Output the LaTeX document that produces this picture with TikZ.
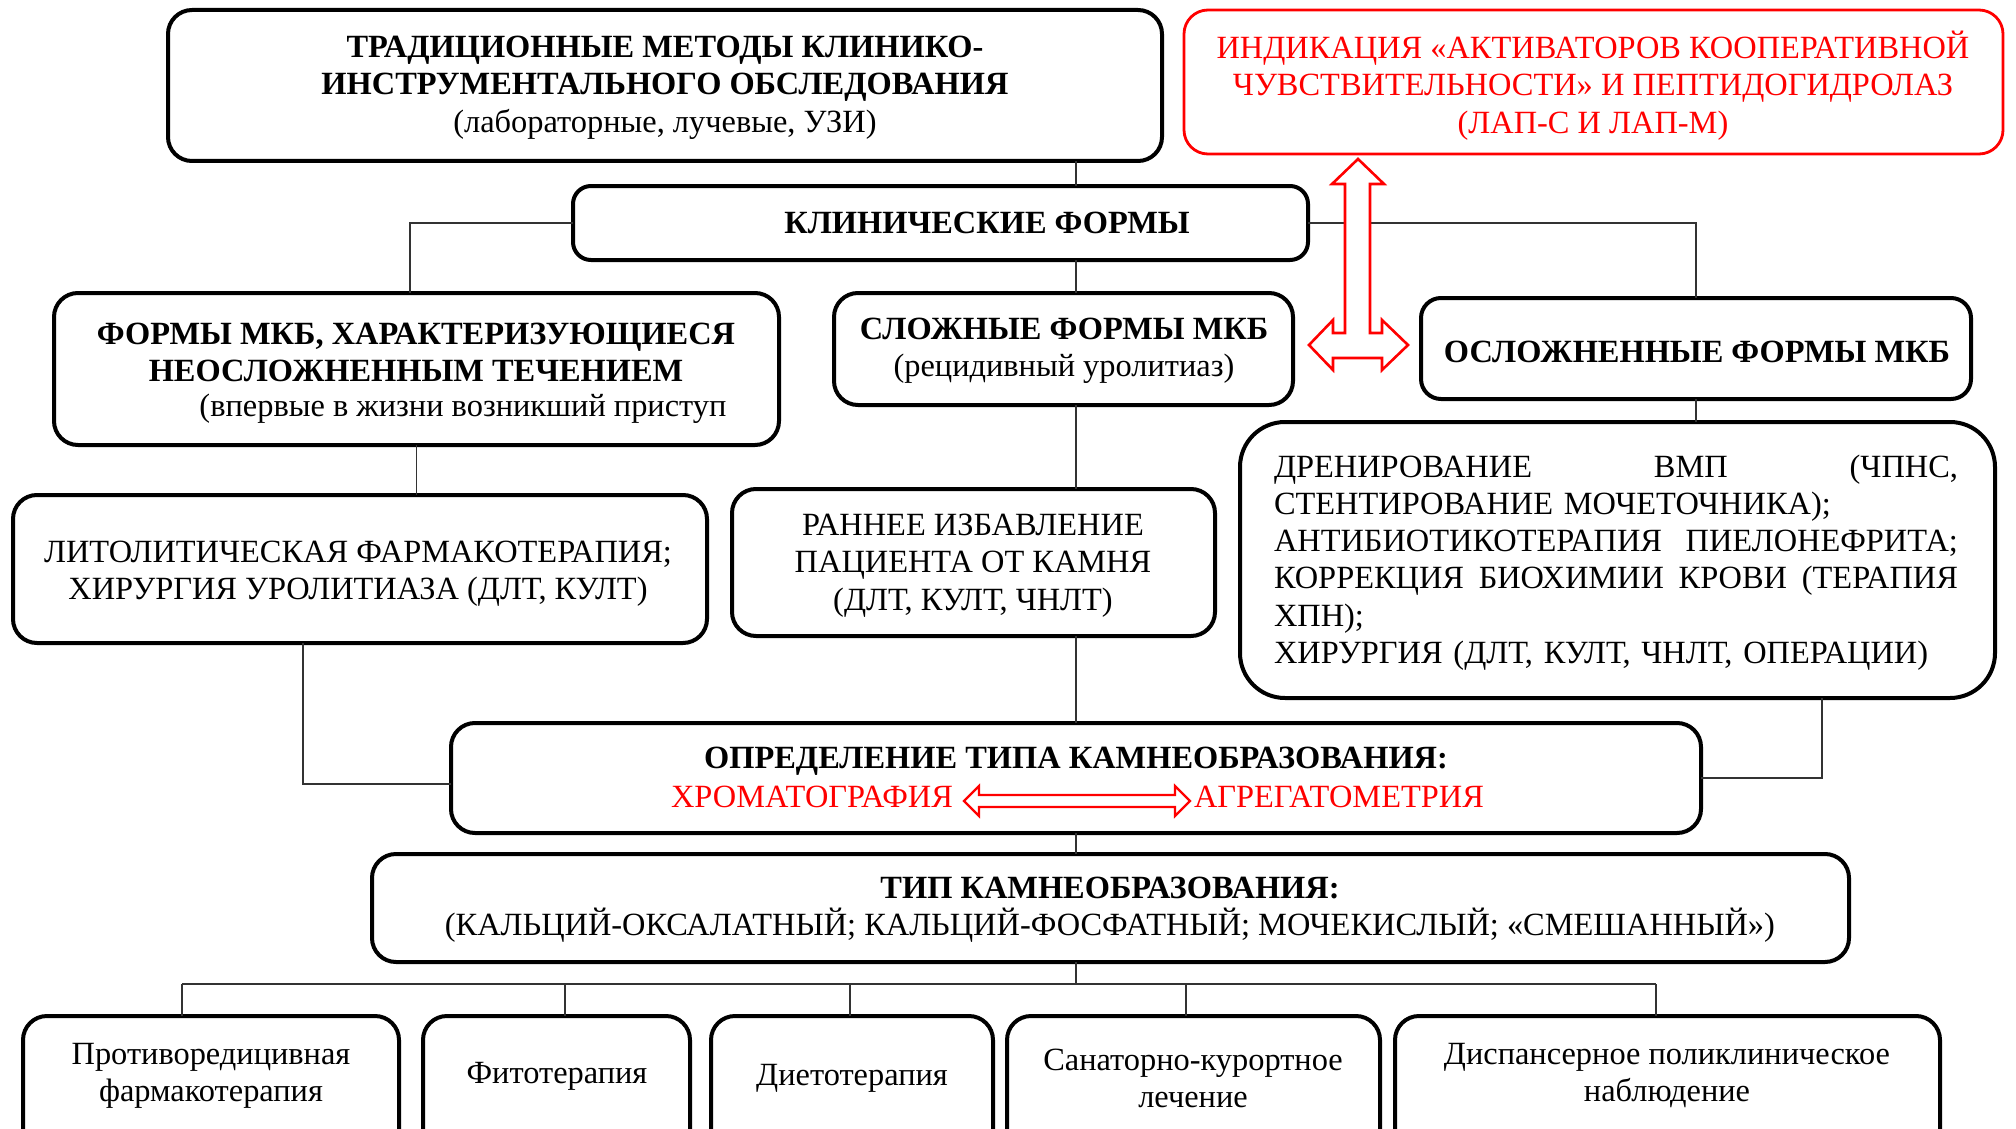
\documentclass[tikz,border=0pt]{standalone}
\usepackage{fontspec}
\setmainfont{Liberation Serif}
\begin{document}
\begin{tikzpicture}[x=1pt,y=-1pt,
  every node/.style={font=\fontsize{32.4}{37.3}\selectfont, inner sep=0pt, outer sep=0pt},
  box/.style={draw=black, line width=4pt, rounded corners=24pt},
  redbox/.style={draw=red, line width=2.8pt, rounded corners=24pt},
  conn/.style={draw=black!80, line width=1.8pt},
  redarrow/.style={draw=red, line width=2.6pt, line join=miter},
  txt/.style={align=center, yshift=-3.5pt},
  redtxt/.style={align=center, text=red, yshift=-3.5pt}]
\useasboundingbox (0,0) rectangle (2016,1129);
\clip (0,0) rectangle (2016,1129);

% boxes
\node[box, minimum width=994pt, minimum height=151pt] (top) at (665,85.5) {};
\node[redbox, minimum width=819pt, minimum height=144pt] (ind) at (1593.5,82) {};
\node[box, minimum width=735pt, minimum height=74pt, rounded corners=18pt] (clin) at (940.5,223) {};
\node[box, minimum width=725pt, minimum height=152pt] (f1) at (416.5,369) {};
\node[box, minimum width=459pt, minimum height=112pt] (f2) at (1063.5,349) {};
\node[box, minimum width=550pt, minimum height=101pt, rounded corners=20pt] (f3) at (1696,348.5) {};
\node[box, minimum width=694pt, minimum height=148pt] (t1) at (360,569) {};
\node[box, minimum width=483pt, minimum height=147pt] (t2) at (973.5,562.5) {};
\node[box, minimum width=755pt, minimum height=276pt, rounded corners=45pt] (t3) at (1617.5,560) {};
\node[box, minimum width=1250pt, minimum height=110pt] (det) at (1076,778) {};
\node[box, minimum width=1477pt, minimum height=108pt] (typ) at (1110.5,908) {};
\node[box, minimum width=376pt, minimum height=150pt] (b1) at (211,1091) {};
\node[box, minimum width=267pt, minimum height=150pt] (b2) at (556.5,1091) {};
\node[box, minimum width=282pt, minimum height=150pt] (b3) at (852,1091) {};
\node[box, minimum width=373pt, minimum height=150pt] (b4) at (1193.5,1091) {};
\node[box, minimum width=545pt, minimum height=150pt] (b5) at (1667.5,1091) {};

% texts
\node[txt] (toptxt) at (665,84) {\textbf{ТРАДИЦИОННЫЕ МЕТОДЫ КЛИНИКО-}\\\textbf{ИНСТРУМЕНТАЛЬНОГО ОБСЛЕДОВАНИЯ}\\(лабораторные, лучевые, УЗИ)};
\node[redtxt] (indtxt) at (1593,82) {ИНДИКАЦИЯ «АКТИВАТОРОВ КООПЕРАТИВНОЙ\\ЧУВСТВИТЕЛЬНОСТИ» И ПЕПТИДОГИДРОЛАЗ\\(ЛАП-С И ЛАП-М)};
\node[txt] (clintxt) at (987,219) {\textbf{КЛИНИЧЕСКИЕ ФОРМЫ}};
\node[txt] (f1txt) at (416,349) {\textbf{ФОРМЫ МКБ, ХАРАКТЕРИЗУЮЩИЕСЯ}\\\textbf{НЕОСЛОЖНЕННЫМ ТЕЧЕНИЕМ}};
\node[txt] (f1sub) at (463,405) {(впервые в жизни возникший приступ};
\node[txt] (f2txt) at (1064,347) {\textbf{СЛОЖНЫЕ ФОРМЫ МКБ}\\(рецидивный уролитиаз)};
\node[txt] (f3txt) at (1697,348) {\textbf{ОСЛОЖНЕННЫЕ ФОРМЫ МКБ}};
\node[txt] (t1txt) at (358,570) {ЛИТОЛИТИЧЕСКАЯ ФАРМАКОТЕРАПИЯ;\\ХИРУРГИЯ УРОЛИТИАЗА (ДЛТ, КУЛТ)};
\node[txt] (t2txt) at (973,562) {РАННЕЕ ИЗБАВЛЕНИЕ\\ПАЦИЕНТА ОТ КАМНЯ\\(ДЛТ, КУЛТ, ЧНЛТ)};
\node[align=left, text width=684pt, anchor=west, yshift=-3.5pt] (t3txt) at (1274,559) {\makebox[684pt][l]{ДРЕНИРОВАНИЕ\hfill ВМП\hfill (ЧПНС,}\\СТЕНТИРОВАНИЕ МОЧЕТОЧНИКА);\\\makebox[684pt][l]{АНТИБИОТИКОТЕРАПИЯ\hfill ПИЕЛОНЕФРИТА;}\\\makebox[684pt][l]{КОРРЕКЦИЯ\hfill БИОХИМИИ\hfill КРОВИ\hfill (ТЕРАПИЯ}\\ХПН);\\ХИРУРГИЯ (ДЛТ, КУЛТ, ЧНЛТ, ОПЕРАЦИИ)};
\node[txt] (dettxt) at (1076,758) {\textbf{ОПРЕДЕЛЕНИЕ ТИПА КАМНЕОБРАЗОВАНИЯ:}};
\node[redtxt, anchor=east] (chrom) at (953,793) {ХРОМАТОГРАФИЯ};
\node[redtxt, anchor=west] (aggr) at (1194,793) {АГРЕГАТОМЕТРИЯ};
\node[txt] (typtxt) at (1110,906) {\textbf{ТИП КАМНЕОБРАЗОВАНИЯ:}\\(КАЛЬЦИЙ-ОКСАЛАТНЫЙ; КАЛЬЦИЙ-ФОСФАТНЫЙ; МОЧЕКИСЛЫЙ; «СМЕШАННЫЙ»)};
\node[txt] (b1txt) at (211,1072) {Противоредицивная\\фармакотерапия};
\node[txt] (b2txt) at (557,1073) {Фитотерапия};
\node[txt] (b3txt) at (852,1075) {Диетотерапия};
\node[txt] (b4txt) at (1193,1075) {Санаторно-курортное\\лечение};
\node[txt] (b5txt) at (1667,1072) {Диспансерное поликлиническое\\наблюдение};

% helper coordinates
\coordinate (cx) at (1076,0);
\coordinate (kl) at (410,0);
\coordinate (k1) at (303,0);
\coordinate (k2) at (1822,0);
\coordinate (bus) at (0,984);
\coordinate (v1) at (182,0);
\coordinate (v2) at (565,0);
\coordinate (v3) at (850,0);
\coordinate (v4) at (1186,0);
\coordinate (v5) at (1656,0);

% connectors
\draw[conn] (top.south -| cx) -- (clin.north -| cx);
\draw[conn] (clin.west) -| (f1.north -| kl);
\draw[conn] (clin.east) -| (f3.north);
\draw[conn] (clin.south -| cx) -- (f2.north -| cx);
\draw[conn] (f1.south) -- (t1.north -| f1.south);
\draw[conn] (f2.south -| cx) -- (t2.north -| cx);
\draw[conn] (t2.south -| cx) -- (det.north -| cx);
\draw[conn] (f3.south) -- (t3.north -| f3.south);
\draw[conn] (t3.south -| k2) |- (det.east);
\draw[conn] (t1.south -| k1) |- ([yshift=-6pt]det.west);
\draw[conn] (det.south -| cx) -- (typ.north -| cx);
\draw[conn] (typ.south -| cx) -- (bus -| cx);
\draw[conn] (bus -| v1) -- (bus -| v5);
\draw[conn] (bus -| v1) -- (b1.north -| v1);
\draw[conn] (bus -| v2) -- (b2.north -| v2);
\draw[conn] (bus -| v3) -- (b3.north -| v3);
\draw[conn] (bus -| v4) -- (b4.north -| v4);
\draw[conn] (bus -| v5) -- (b5.north -| v5);

% red T-shaped arrow
\draw[redarrow, fill=white] (1358,159) -- (1384,184) -- (1370,184) -- (1370,333) -- (1382,333) -- (1382,320) -- (1408,345) -- (1382,370) -- (1382,358) -- (1333,358) -- (1333,370) -- (1309,345) -- (1333,320) -- (1333,333) -- (1345,333) -- (1345,184) -- (1332,184) -- cycle;
% red double arrow in det
\draw[redarrow, line width=2.2pt] (964,801) -- (979,786) -- (979,795) -- (1175,795) -- (1175,786) -- (1190,801) -- (1175,816) -- (1175,807) -- (979,807) -- (979,816) -- cycle;
\end{tikzpicture}
\end{document}
